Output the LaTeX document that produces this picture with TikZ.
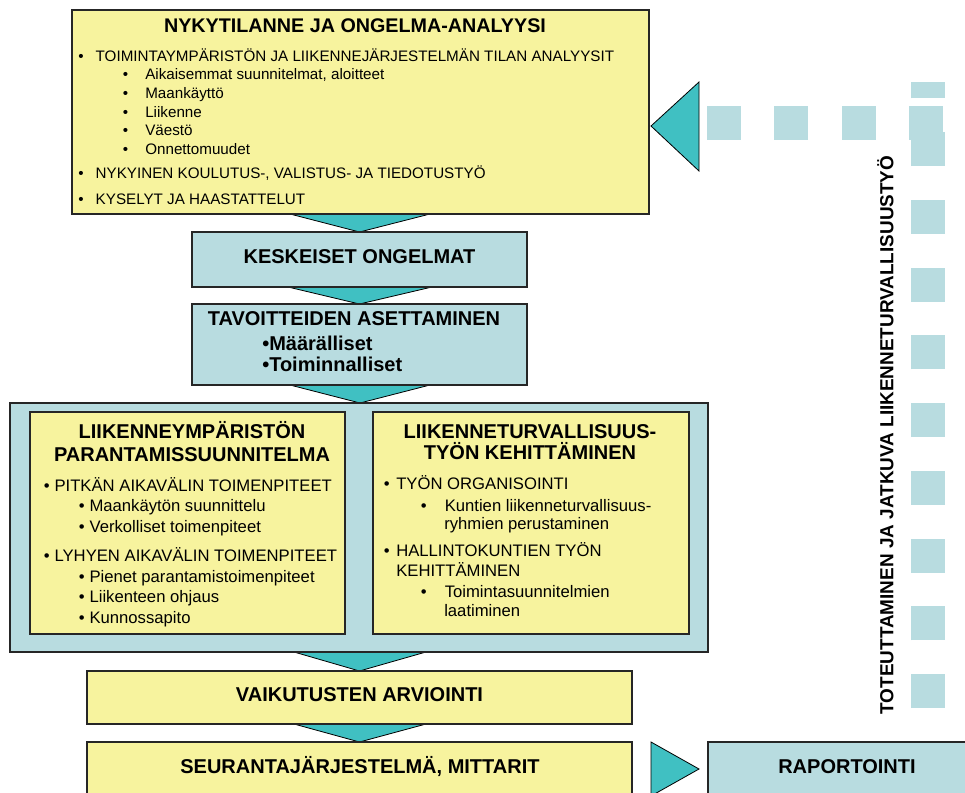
\documentclass[tikz,border=0pt]{standalone}
\usepackage{fontspec}
\setmainfont{Liberation Sans}
\usetikzlibrary{fit,backgrounds}
\definecolor{boxyellow}{RGB}{247,243,158}
\definecolor{boxteal}{RGB}{184,220,224}
\definecolor{arrowteal}{RGB}{64,192,194}
\newcommand\fTitle{\fontsize{14.8}{17}\selectfont\bfseries}
\newcommand\fTop{\fontsize{11.4}{13}\selectfont}
\newcommand\fMid{\fontsize{12.5}{14}\selectfont}
\newcommand\fHead{\fontsize{15}{17}\selectfont\bfseries}
\newcommand\fVert{\fontsize{14.2}{16}\selectfont\bfseries}
\newcommand\bA{\makebox[13.1pt][l]{•}}
\newcommand\bB{\makebox[16.9pt][l]{•}}
\newcommand\bC{\makebox[8.1pt][l]{•}}
\newcommand\bE{\makebox[9.4pt][l]{•}}
\newcommand\bD{\makebox[18pt][l]{•}}
\begin{document}
\begin{tikzpicture}[x=0.75pt,y=-0.75pt,
  box/.style={draw=black!85, line width=0.9pt, inner sep=0pt, outer sep=0pt},
  ybox/.style={box, fill=boxyellow},
  tbox/.style={box, fill=boxteal},
  tri/.style={fill=arrowteal, draw=black, line width=0.6pt, line join=miter},
  txt/.style={inner sep=0pt, text height=1.5ex, text depth=.25ex},
  toptxt/.style={txt, font=\fTop, anchor=west},
  midtxt/.style={txt, font=\fMid, anchor=west},
  headtxt/.style={txt, font=\fHead},
  dashline/.style={draw=boxteal, line width=25.5pt}]
\useasboundingbox (0,0) rectangle (965,793);
\clip (0,0) rectangle (965,793);

% boxes
\node[ybox, fit={(72,10)(649,214)}] (top) {};
\node[tbox, fit={(192,232)(527,287)}] (kes) {};
\node[tbox, fit={(192,304)(527,385)}] (tav) {};
\node[tbox, fit={(10,403)(708,652)}] (big) {};
\node[ybox, fit={(30,412)(345,634)}] (left) {};
\node[ybox, fit={(373,412)(689,634)}] (right) {};
\node[ybox, fit={(87,671)(632,724)}] (vai) {};
\node[ybox, fit={(87,742)(632,800)}] (seu) {};
\node[tbox, fit={(708,742)(980,800)}] (rap) {};

% down arrows
\begin{scope}[on background layer]
\draw[tri] (290,214) -- (430,214) -- (kes.north) -- cycle;
\draw[tri] (288,287) -- (432,287) -- (tav.north) -- cycle;
\draw[tri] (290,385) -- (430,385) -- (360,403) -- cycle;
\draw[tri] (294,652) -- (426,652) -- (vai.north) -- cycle;
\draw[tri] (294,724) -- (426,724) -- (seu.north) -- cycle;
\end{scope}

% side arrows
\coordinate (ltip) at (651,126);
\draw[tri] (699,82) -- (699,171) -- (ltip) -- cycle;
\draw[tri] (651,742) -- (651,796) -- (699,769) -- cycle;

% dashed feedback connector
\coordinate (vbot) at (928,708);
\coordinate (vtop) at (928,82);
\coordinate (hright) at (943,123);
\coordinate (hleft) at (706.5,123);
\draw[dashline, dash pattern=on 25.5pt off 25.3pt] (vbot) -- (vtop);
\draw[dashline, dash pattern=on 25.5pt off 25.1pt] (hright) -- (hleft);

% top box text
\node[txt, font=\fTitle] (t0) at (355,28) {NYKYTILANNE JA ONGELMA-ANALYYSI};
\node[toptxt] (t1) at (78,57) {\bA TOIMINTAYMPÄRISTÖN JA LIIKENNEJÄRJESTELMÄN TILAN ANALYYSIT};
\node[toptxt] (t2) at (122.5,75) {\bB Aikaisemmat suunnitelmat, aloitteet};
\node[toptxt] (t3) at (122.5,94) {\bB Maankäyttö};
\node[toptxt] (t4) at (122.5,113) {\bB Liikenne};
\node[toptxt] (t5) at (122.5,131) {\bB Väestö};
\node[toptxt] (t6) at (122.5,150) {\bB Onnettomuudet};
\node[toptxt] (t7) at (78,174) {\bA NYKYINEN KOULUTUS-, VALISTUS- JA TIEDOTUSTYÖ};
\node[toptxt] (t8) at (78,200) {\bA KYSELYT JA HAASTATTELUT};

% keskeiset / tavoitteet
\node[headtxt] (k1) at (kes.center) {KESKEISET ONGELMAT};
\node[headtxt] (v1) at (354,321) {TAVOITTEIDEN ASETTAMINEN};
\node[headtxt, anchor=west] (v2) at (262,346) {•Määrälliset};
\node[headtxt, anchor=west] (v3) at (262,367) {•Toiminnalliset};

% left inner box
\node[headtxt] (l1) at (192,434) {LIIKENNEYMPÄRISTÖN};
\node[headtxt] (l2) at (192,457) {PARANTAMISSUUNNITELMA};
\node[midtxt] (l3) at (43.5,487) {\bC PITKÄN AIKAVÄLIN TOIMENPITEET};
\node[midtxt] (l4) at (78.5,507) {\bC Maankäytön suunnittelu};
\node[midtxt] (l5) at (78.5,528) {\bC Verkolliset toimenpiteet};
\node[midtxt] (l6) at (43.5,557) {\bC LYHYEN AIKAVÄLIN TOIMENPITEET};
\node[midtxt] (l7) at (78.5,578) {\bC Pienet parantamistoimenpiteet};
\node[midtxt] (l8) at (78.5,598) {\bC Liikenteen ohjaus};
\node[midtxt] (l9) at (78.5,619) {\bC Kunnossapito};

% right inner box
\node[headtxt] (r1) at (530,434) {LIIKENNETURVALLISUUS-};
\node[headtxt] (r2) at (530,455) {TYÖN KEHITTÄMINEN};
\node[midtxt] (r3) at (383.5,485) {\bE TYÖN ORGANISOINTI};
\node[midtxt] (r4) at (420.5,507) {\bD Kuntien liikenneturvallisuus-};
\node[midtxt] (r5) at (444,525) {ryhmien perustaminen};
\node[midtxt] (r6) at (383.5,552) {\bE HALLINTOKUNTIEN TYÖN};
\node[midtxt] (r7) at (396,572) {KEHITTÄMINEN};
\node[midtxt] (r8) at (420.5,593) {\bD Toimintasuunnitelmien};
\node[midtxt] (r9) at (444,612) {laatiminen};

% bottom texts
\node[headtxt] (b1) at (vai.center) {VAIKUTUSTEN ARVIOINTI};
\node[headtxt] (b2) at (360,769) {SEURANTAJÄRJESTELMÄ, MITTARIT};
\node[headtxt] (b3) at (847,769) {RAPORTOINTI};

% vertical label
\node[txt, font=\fVert, rotate=90] (vl) at (889,435) {TOTEUTTAMINEN JA JATKUVA LIIKENNETURVALLISUUSTYÖ};
\end{tikzpicture}
\end{document}
